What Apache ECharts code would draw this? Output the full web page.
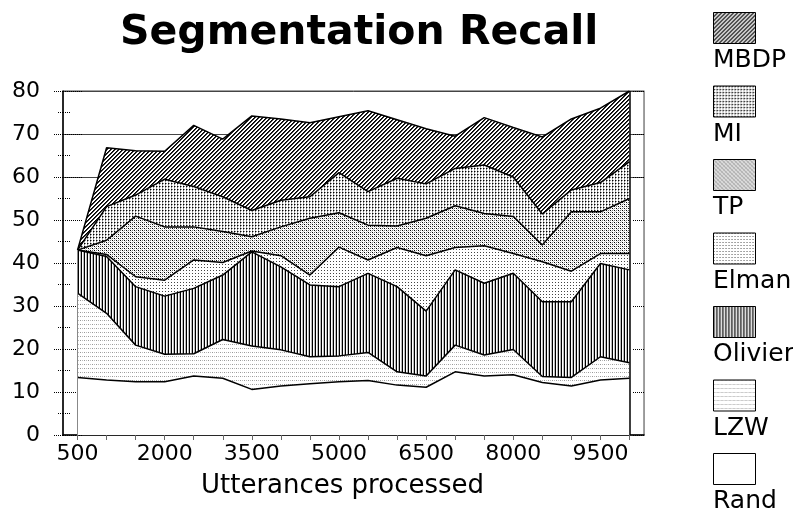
<!DOCTYPE html>
<html>
<head>
<meta charset="utf-8">
<script src="https://cdn.jsdelivr.net/npm/echarts@6/dist/echarts.min.js"></script>
<style>html,body{margin:0;padding:0;background:#fff;}#c{width:793px;height:514px;}</style>
</head>
<body>
<div id="c"></div>
<script>
const categories = ['500','1000','1500','2000','2500','3000','3500','4000','4500','5000','5500','6000','6500','7000','7500','8000','8500','9000','9500','10000'];
const yTicks = [0,10,20,30,40,50,60,70,80];
const seriesNames = ['MBDP','MI','TP','Elman','Olivier','LZW','Rand'];
const MBDP    = [43, 66.8, 66.1, 66, 72, 68.8, 74.2, 73.5, 72.6, 74, 75.4, 73.3, 71.2, 69.5, 73.8, 71.5, 69.3, 73.5, 76, 80];
const MI      = [43, 53.1, 55.8, 59.5, 57.8, 55.4, 52.2, 54.6, 55.4, 61, 56.6, 59.7, 58.4, 62, 62.8, 60, 51.4, 57, 58.7, 63.6];
const TP      = [43, 45.3, 50.9, 48.4, 48.4, 47.3, 46.1, 48.4, 50.4, 51.7, 48.8, 48.6, 50.4, 53.3, 51.5, 50.8, 44.2, 51.9, 51.9, 55];
const Elman   = [43, 42, 36.8, 36, 40.7, 40.1, 42.8, 41.7, 37.2, 43.7, 40.7, 43.6, 41.7, 43.6, 44, 42.2, 40.3, 38.1, 42.2, 42.2];
const Olivier = [43, 41.5, 34.5, 32.3, 34.1, 37.2, 42.6, 39.1, 34.9, 34.5, 37.6, 34.5, 28.8, 38.4, 35.3, 37.6, 31, 31, 39.9, 38.4];
const LZW     = [33, 28.3, 20.9, 18.8, 18.9, 22.2, 20.7, 19.8, 18.2, 18.4, 19.2, 14.7, 13.7, 20.9, 18.6, 19.9, 13.6, 13.4, 18.2, 16.8];
const Rand    = [13.4, 12.8, 12.4, 12.4, 13.7, 13.2, 10.6, 11.4, 11.9, 12.4, 12.7, 11.6, 11.1, 14.7, 13.7, 14, 12.2, 11.4, 12.8, 13.2];
const values = [MBDP, MI, TP, Elman, Olivier, LZW, Rand];

function pat(w, h, px) {
  const c = document.createElement('canvas');
  c.width = w; c.height = h;
  const ctx = c.getContext('2d');
  ctx.fillStyle = '#fff'; ctx.fillRect(0, 0, w, h);
  px.forEach(p => { ctx.fillStyle = p[2]; ctx.fillRect(p[0], p[1], 1, 1); });
  return { image: c, repeat: 'repeat' };
}
const patterns = [
  // MBDP diagonal hatch
  pat(4, 4, [[0,3,'#000'],[1,2,'#000'],[2,1,'#000'],[3,0,'#000'],[1,3,'#333'],[2,2,'#333'],[3,1,'#333'],[0,0,'#333']]),
  // MI dotted grid
  pat(3, 3, [[0,0,'#000'],[1,0,'#888'],[0,1,'#888'],[0,2,'#bbb']]),
  // TP dense dots
  pat(4, 4, [[0,0,'#000'],[2,2,'#000'],[2,0,'#777'],[0,2,'#777'],[1,1,'#ccc'],[3,3,'#ccc']]),
  // Elman sparse dots
  pat(3, 3, [[0,0,'#444']]),
  // Olivier vertical stripes
  pat(3, 1, [[0,0,'#000'],[2,0,'#bbb']]),
  // LZW faint dotted rows
  pat(4, 4, [[0,0,'#999'],[2,0,'#bbb']]),
  // Rand white
  '#ffffff'
];

const FONT = 'DejaVu Sans';
const chart = echarts.init(document.getElementById('c'), null, { renderer: 'canvas' });

const series = seriesNames.map((n, i) => {
  const s = {
    name: n, type: 'line', data: values[i], yAxisIndex: 0,
    symbol: 'none', showSymbol: false, silent: true,
    lineStyle: { color: '#000', width: 1.5 },
    itemStyle: { color: '#000' },
    areaStyle: { color: patterns[i], opacity: 1, origin: 'start' },
    z: 2 + i * 0.01
  };
  if (n === 'Rand') {
    s.markLine = {
      silent: true, symbol: 'none', label: { show: false },
      data: [
        [{ coord: [categories[0], 0], lineStyle: { color: '#888', width: 1, type: 'solid' } }, { coord: [categories[0], values[0][0]] }],
        [{ coord: [categories[categories.length - 1], 0], lineStyle: { color: '#000', width: 1.5, type: 'solid' } }, { coord: [categories[categories.length - 1], values[0][values[0].length - 1]] }]
      ]
    };
  }
  return s;
});

const legendGraphics = [];
seriesNames.forEach((n, i) => {
  const top = 12 + 73.5 * i;
  legendGraphics.push({
    type: 'rect', left: 713, top: top,
    shape: { width: 42, height: 31 },
    style: { fill: patterns[i], stroke: '#000', lineWidth: 1 }
  });
  legendGraphics.push({
    type: 'text', left: 713, top: top + 36,
    style: { text: n, fill: '#000', font: '25px "' + FONT + '"' }
  });
});

const option = {
  animation: false,
  backgroundColor: '#fff',
  title: {
    text: 'Segmentation Recall', left: 115, top: 8,
    textStyle: { fontFamily: FONT, fontSize: 41, fontWeight: 'bold', color: '#000' }
  },
  grid: { left: 63, right: 149, top: 91, bottom: 79, show: true, borderColor: '#444', borderWidth: 1, backgroundColor: 'transparent' },
  xAxis: {
    type: 'category', data: categories, boundaryGap: true,
    name: 'Utterances processed', nameLocation: 'middle', nameGap: 38,
    nameTextStyle: { fontFamily: FONT, fontSize: 26, color: '#000', padding: [0, 22, 0, 0] },
    axisLine: { lineStyle: { color: '#000', width: 1.5 } },
    axisTick: { show: true, interval: 0, alignWithLabel: true, length: 5, lineStyle: { color: '#666' } },
    axisLabel: { interval: 2, fontFamily: FONT, fontSize: 22, color: '#000', margin: 8 },
    splitLine: { show: false }
  },
  yAxis: [
    {
      type: 'value', min: 0, max: 80, interval: 10, position: 'left',
      axisLine: { show: true, lineStyle: { color: '#000', width: 1.5 } },
      axisTick: { show: true, length: 10, lineStyle: { color: '#000', type: 'dotted' } },
      minorTick: { show: true, splitNumber: 2, length: 6, lineStyle: { color: '#000', type: 'dotted' } },
      axisLabel: { fontFamily: FONT, fontSize: 22, color: '#000', margin: 23 },
      splitLine: { show: true, lineStyle: { color: ['transparent','transparent','transparent','transparent','transparent','transparent','#444','#444','#444'], width: 1 } }
    },
    {
      type: 'value', min: 0, max: 80, interval: 10, position: 'right',
      axisLine: { show: true, lineStyle: { color: '#999', width: 1 } },
      axisTick: { show: true, inside: true, length: 12, lineStyle: { color: '#000', type: 'dotted' } },
      axisLabel: { show: false }, splitLine: { show: false }
    },
    {
      type: 'value', min: 0, max: 80, interval: 10, position: 'left',
      axisLine: { show: false },
      axisTick: { show: true, inside: true, length: 20, lineStyle: { color: '#000', type: 'dotted' } },
      minorTick: { show: true, splitNumber: 2, length: 8, lineStyle: { color: '#000', type: 'dotted' } },
      axisLabel: { show: false }, splitLine: { show: false }
    }
  ],
  series: series,
  graphic: legendGraphics
};
chart.setOption(option);
</script>
</body>
</html>
